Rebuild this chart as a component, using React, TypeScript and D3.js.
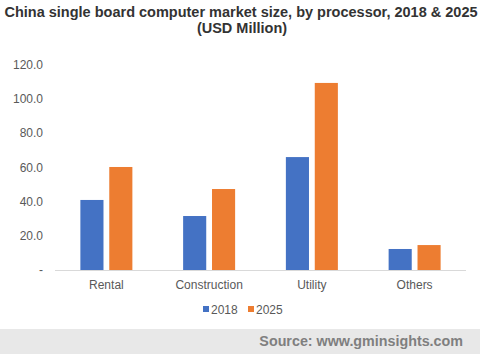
import { useRef, useEffect } from "react";
import * as d3 from "d3";

const categories = ["Rental", "Construction", "Utility", "Others"];
const seriesNames = ["2018", "2025"];
const values2018 = [41.0, 31.6, 66.1, 12.3];
const values2025 = [60.3, 47.4, 109.5, 14.6];
const yTicks = [0, 20, 40, 60, 80, 100, 120];
const colors = ["#4472c4", "#ed7d31"];

const W = 480;
const H = 354;

export default function App() {
  const svgRef = useRef(null);

  useEffect(() => {
    const svg = d3.select(svgRef.current);
    svg.selectAll("*").remove();

    const x = d3.scaleBand().domain(categories).range([55, 466]).padding(0);
    const y = d3.scaleLinear().domain([0, 120]).range([270, 65]);
    const inner = d3.scaleBand().domain(seriesNames).range([0, 52]).paddingInner(0.2);

    // title
    const title = svg.append("g")
      .attr("font-family", "Liberation Sans, Arial, sans-serif")
      .attr("font-weight", "bold")
      .attr("font-size", 14.5)
      .attr("fill", "#333333")
      .attr("text-anchor", "middle");
    title.append("text").attr("x", 241).attr("y", 17)
      .text("China single board computer market size, by processor, 2018 & 2025");
    title.append("text").attr("x", 242).attr("y", 33).text("(USD Million)");

    // y axis labels
    const yAx = svg.append("g")
      .attr("font-family", "Liberation Sans, Arial, sans-serif")
      .attr("font-size", 12)
      .attr("fill", "#595959")
      .attr("text-anchor", "end");
    yTicks.forEach((t) => {
      yAx.append("text")
        .attr("x", 43)
        .attr("y", y(t) + 4)
        .text(t === 0 ? "-" : t.toFixed(1));
    });

    // bars
    const data = categories.map((c, i) => ({ c, vals: [values2018[i], values2025[i]] }));
    const groups = svg.append("g").selectAll("g").data(data).join("g")
      .attr("transform", (d) => `translate(${(x(d.c) as number) + x.bandwidth() / 2 - 26},0)`);
    groups.selectAll("rect")
      .data((d) => d.vals.map((v, j) => ({ v, s: seriesNames[j], j })))
      .join("rect")
      .attr("x", (d) => inner(d.s) as number)
      .attr("width", inner.bandwidth())
      .attr("y", (d) => y(d.v))
      .attr("height", (d) => y(0) - y(d.v))
      .attr("fill", (d) => colors[d.j]);

    // x axis
    svg.append("line")
      .attr("x1", 55).attr("x2", 466)
      .attr("y1", y(0) + 0.5).attr("y2", y(0) + 0.5)
      .attr("stroke", "#d9d9d9");

    svg.append("g")
      .attr("font-family", "Liberation Sans, Arial, sans-serif")
      .attr("font-size", 12)
      .attr("fill", "#595959")
      .attr("text-anchor", "middle")
      .selectAll("text").data(categories).join("text")
      .attr("x", (d) => (x(d) as number) + x.bandwidth() / 2)
      .attr("y", 289)
      .text((d) => d);

    // legend
    const leg = svg.append("g")
      .attr("font-family", "Liberation Sans, Arial, sans-serif")
      .attr("font-size", 12)
      .attr("fill", "#595959");
    const legX = [203, 248];
    seriesNames.forEach((s, i) => {
      leg.append("rect").attr("x", legX[i]).attr("y", 306).attr("width", 6).attr("height", 6).attr("fill", colors[i]);
      leg.append("text").attr("x", legX[i] + 8).attr("y", 314).text(s);
    });

    // source band
    svg.append("rect").attr("x", 0).attr("y", 329).attr("width", W).attr("height", H - 329).attr("fill", "#e8e8e8");
    svg.append("text")
      .attr("x", 463).attr("y", 346)
      .attr("text-anchor", "end")
      .attr("font-family", "Liberation Sans, Arial, sans-serif")
      .attr("font-weight", "bold")
      .attr("font-size", 14.3)
      .attr("fill", "#7f7f7f")
      .text("Source: www.gminsights.com");
  }, []);

  return (
    <svg ref={svgRef} width={W} height={H} style={{ position: "absolute", left: 0, top: 0, background: "#fff" }}></svg>
  );
}
